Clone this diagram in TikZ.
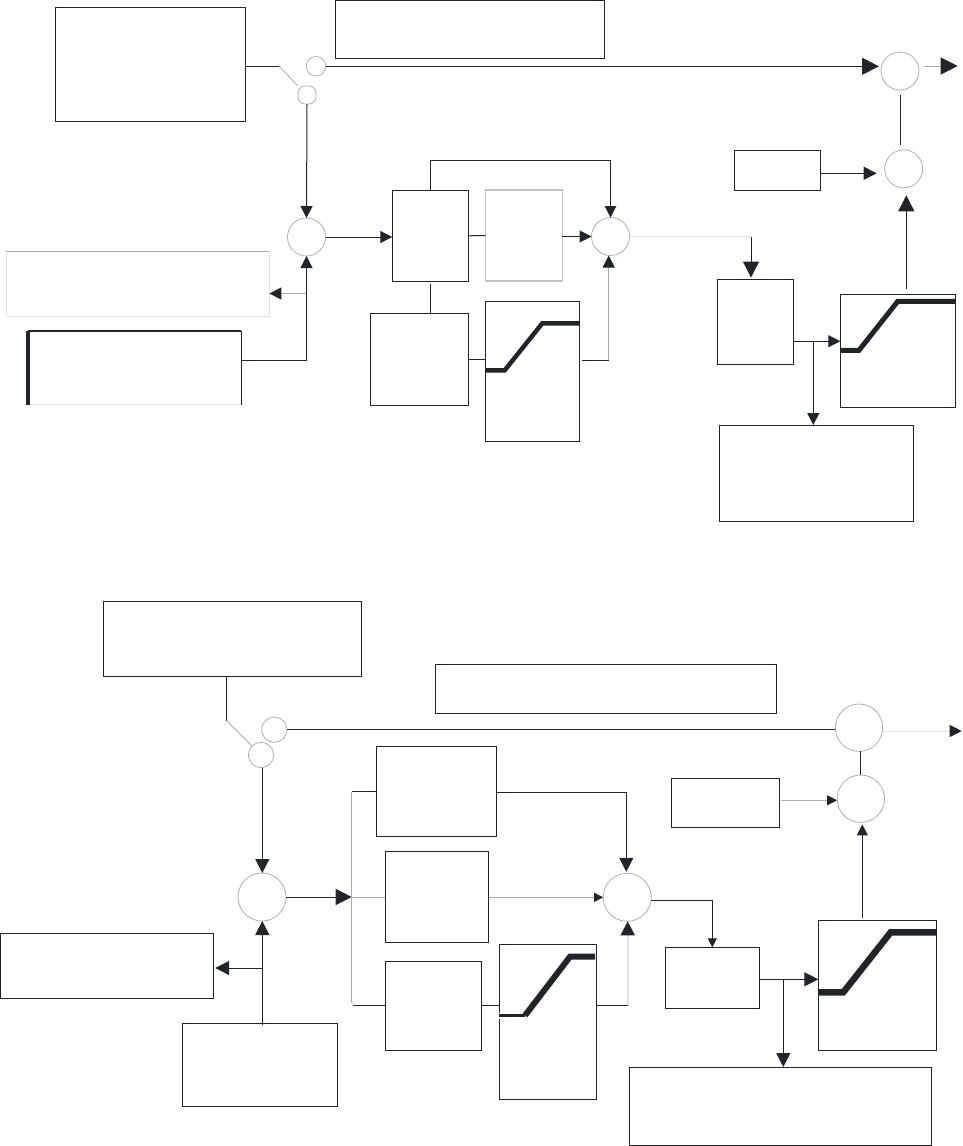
\documentclass[tikz,border=0pt]{standalone}
\usepackage{xcolor}
\usetikzlibrary{arrows.meta, positioning, calc}
\definecolor{ink}{HTML}{202628}
\definecolor{mid}{HTML}{ABABAB}
\definecolor{faint}{HTML}{E2E2E2}
\tikzset{
  sz/.style 2 args={minimum width=#1*0.2mm, minimum height=#2*0.2mm},
  %
  blk/.style={draw=ink, line width=0.2mm, rectangle, inner sep=0pt, outer sep=0pt},
  junc/.style={draw=mid, line width=0.15mm, circle, inner sep=0pt, outer sep=0pt,
               minimum size=#1*0.2mm},
  stud/.style={draw=mid, line width=0.15mm, rectangle, rounded corners=1.4mm,
               inner sep=0pt, outer sep=0pt, sz={18}{18}},
  %
  wire/.style={draw=ink, line width=0.2mm},
  flow/.style={wire, -{Triangle[length=#1, width=#1, color=ink]}},
  flow/.default=2.4mm,
  thinw/.style={draw=mid, line width=0.15mm},
  ramp/.style={draw=ink, line width=#1*0.2mm, line join=miter},
  ramp/.default=4,
}
\begin{document}
\begin{tikzpicture}[x=0.2mm, y=-0.2mm]
\useasboundingbox (0,0) rectangle (962,1146);

% ------------------------------------------------------------- upper blocks
\node[blk, sz={190}{114}] (src) at (150.5,64.5) {};
\node[blk, sz={269}{58.3}] (tbox) at (470,29.6) {};
\node[blk, draw=faint, sz={263.3}{64.7}] (boxf) at (137.7,283.7) {};
\node[blk, draw=faint, sz={213.3}{73.4}] (boxe) at (134.7,368) {};
\node[blk, sz={76}{91}] (k1) at (430.3,235.8) {};
\node[blk, draw=mid!70, line width=0.25mm, sz={77}{91}] (k2) at (523.8,235.5) {};
\node[blk, sz={98}{92}] (k4) at (419.3,359.3) {};
\node[blk, sz={94}{140.5}] (sat1) at (532.3,371.7) {};
\node[blk, sz={76}{84.5}] (k3) at (755.3,321.8) {};
\node[blk, sz={115.4}{112.7}] (sat2) at (898,350.9) {};
\node[blk, sz={194}{96}] (boxd) at (816.3,473) {};
\node[blk, sz={86.4}{40}] (boxc) at (777.5,170.2) {};

\node[junc=19.6] (c1) at (316,66.3) {};
\node[stud] (c2) at (307,95) {};
\node[junc=38] (sum1) at (306.5,237) {};
\node[junc=38] (sum3) at (610.5,236.5) {};
\node[junc=38] (topsum) at (900,71) {};
\node[junc=38] (sum2) at (903.7,168.8) {};

% thick edges of the two odd boxes
\draw[draw=mid, line width=0.2mm] (boxf.north west) -- (boxf.north east);
\draw[ink, line width=0.9mm] (boxe.south west) -- (boxe.north west);
\draw[ink, line width=0.4mm] (boxe.north west) -- (boxe.north east);
\draw[ink, line width=0.3mm] (boxe.north east) -- (boxe.south east);

\draw[ramp=4.5] (485.3,370.3) -- (504.7,370.3) -- (542.3,323.3) -- (579.3,323.3);
\draw[ramp=5] (840.3,350.3) -- (859,350.3) -- (897.7,301.4) -- (955.7,301.4);

% ------------------------------------------------------------- upper wiring
\coordinate (t1) at (279,66);
\draw[wire] (src.east |- t1) -- (t1);
\draw[thinw] (t1) -- (c2.north west);
\draw[flow=3.4mm, shorten >=0.4mm] (c1.east) -- (topsum.west |- c1.east);
\draw[flow] (c2.south) -- (sum1.north);
\draw[flow] (sum1.east) -- (k1.west |- sum1.east);
\coordinate (o1) at (957.7,66);
\draw[flow=3.4mm, draw=mid, shorten <=0.9mm] (topsum.east |- o1) -- (o1);
\draw[wire, shorten <=1mm, shorten >=1mm] (topsum.south) -- (topsum.south |- sum2.north);

\coordinate (v1) at (306.5,293.5);
\draw[flow, draw=mid] (v1) -- (boxf.east |- v1);
\coordinate (e1) at (241.3,360.3);
\draw[flow] (e1) -| (sum1.south);

\draw[flow=2.3mm] (k1.north) -- ++(0,-30) -| (sum3.north);
\draw[wire] (k1.east) -- (k2.west);
\draw[flow] (k2.east |- sum3.west) -- (sum3.west);
\draw[wire, shorten <=0.6mm] (k1.south) -- (k1.south |- k4.north);
\draw[wire] (k4.east) -- (sat1.west |- k4.east);
\coordinate (s1) at (582,360);
\coordinate (s1b) at (608.7,360);
\draw[wire] (s1) -- (s1b);
\draw[flow, draw=mid] (s1b) -- (s1b |- sum3.south);

\coordinate (k3in) at (751,236.5);
\draw[wire, draw=faint] (sum3.east) -- (k3in);
\draw[flow=3.2mm, shorten >=0.4mm] (k3in) -- (k3in |- k3.north);
\coordinate (k3o) at (793.3,341.2);
\draw[flow] (k3o) -- (sat2.west |- k3o);
\coordinate (b1) at (813.3,341.2);
\draw[flow] (b1) -- (b1 |- boxd.north);

\coordinate (c0) at (820.7,173.3);
\draw[flow=2.6mm, shorten >=1.6mm] (c0) -- (sum2.west |- c0);
\coordinate (u2) at (906.3,288.9);
\draw[flow=3.2mm, shorten >=1.5mm] (u2) -- (u2 |- sum2.south);

% ------------------------------------------------------------- lower blocks
\node[blk, sz={258.4}{75.7}] (boxg) at (232.5,639.1) {};
\node[blk, sz={341.4}{49}] (boxi) at (606,688.8) {};
\node[blk, sz={120.4}{89.8}] (l1) at (436.5,791.5) {};
\node[blk, sz={103.4}{91.2}] (l2) at (437,897) {};
\node[blk, sz={96.4}{89}] (l3) at (433.5,1005.5) {};
\node[blk, sz={97.4}{155}] (satb1) at (548,1021.8) {};
\node[blk, sz={94}{61}] (k7) at (712.3,977.8) {};
\node[blk, sz={118.4}{130}] (satb2) at (877.5,985.3) {};
\node[blk, sz={302.4}{78.3}] (boxj) at (780.5,1106.2) {};
\node[blk, sz={108.4}{49}] (boxh) at (725.5,802.8) {};
\node[blk, sz={155.4}{83}] (boxm) at (260,1064.8) {};
\node[blk, sz={213.2}{64.2}] (boxn) at (107.1,966) {};

\node[junc=25.3] (c3) at (274.3,729.7) {};
\node[junc=25.3] (c4) at (261,755) {};
\node[junc=48] (sumb1) at (262,897) {};
\node[junc=48] (sumb3) at (627.2,897.3) {};
\node[junc=47.4] (topb) at (859,727.7) {};
\node[junc=47.4] (sumb2) at (860.8,798.7) {};

\draw[white, line width=1.2mm] (498.3,1015.5) -- (525.5,1015.5);
\draw[ramp=3.4] (499.3,1015.5) -- (525,1015.5);
\draw[ramp=6] (525,1015.5) -- (570,956.7) -- (595,956.7);
\draw[ramp=6.5] (818.3,992.3) -- (843.3,992.3) -- (890.7,932.3) -- (936.7,932.3);

% ------------------------------------------------------------- lower wiring
\coordinate (t2) at (226.7,720.7);
\draw[wire] (t2 |- boxg.south) -- (t2);
\draw[thinw] (t2) -- (c4.north west);
\coordinate (t3) at (287,729.3);
\draw[wire] (t3) -- (topb.west |- t3);
\coordinate (o2) at (961.7,731);
\draw[flow, draw=faint] (topb.east |- o2) -- (o2);
\draw[wire] (topb.south -| sumb2.north) -- (sumb2.north);

\coordinate (c5) at (262.3,767.7);
\draw[flow=2.8mm] (c5) -- (c5 |- sumb1.north);
\coordinate (m1) at (262.3,1024.5);
\draw[flow=2.8mm] (m1) -- (m1 |- sumb1.south);
\coordinate (n1) at (262.3,968);
\draw[flow=2.8mm, shorten >=0.3mm] (n1) -- (boxn.east |- n1);

\coordinate (bus1) at (351.7,791.8);
\coordinate (bus2) at (351.7,897);
\coordinate (bus3) at (351.7,1003.4);
\draw[flow=3.2mm] (sumb1.east) -- (bus2);
\draw[wire] (bus1) -- (l1.west |- bus1);
\draw[thinw, line width=0.2mm] (bus1) -- (bus3);
\draw[thinw] (bus2) -- (l2.west |- bus2);
\coordinate (l3a) at (353,1005);
\draw[wire] (l3a) -- (l3.west |- l3a);
\draw[wire] (l3.east |- l3a) -- (satb1.west |- l3a);

\coordinate (l1o) at (496.7,792.3);
\coordinate (l1t) at (626.3,792.3);
\draw[wire] (l1o) -- (l1t);
\draw[flow=2.8mm, shorten >=0.3mm] (l1t) -- (l1t |- sumb3.north);
\draw[flow=1.8mm, draw=mid] (l2.east |- sumb3.west) -- (sumb3.west);

\coordinate (sb1) at (627.7,1005);
\draw[wire] (satb1.east |- sb1) -- (sb1);
\draw[flow=2.8mm, draw=faint, line width=0.4mm] (sb1) -- (sb1 |- sumb3.south);

\coordinate (r1) at (712.3,900.3);
\draw[wire] (sumb3.east |- r1) -- (r1);
\draw[flow=1.8mm] (r1) -- (r1 |- k7.north);
\coordinate (k7o) at (759.3,979.3);
\draw[flow=2.8mm] (k7o) -- (satb2.west |- k7o);
\coordinate (b2) at (783.3,979.3);
\draw[flow=2.8mm] (b2) -- (b2 |- boxj.north);

\coordinate (h1) at (781,800.3);
\draw[flow=2mm, draw=mid] (h1) -- (sumb2.west |- h1);
\coordinate (u3) at (862.3,918.3);
\draw[flow=2.2mm, shorten >=0.4mm] (u3) -- (u3 |- sumb2.south);

\end{tikzpicture}
\end{document}
